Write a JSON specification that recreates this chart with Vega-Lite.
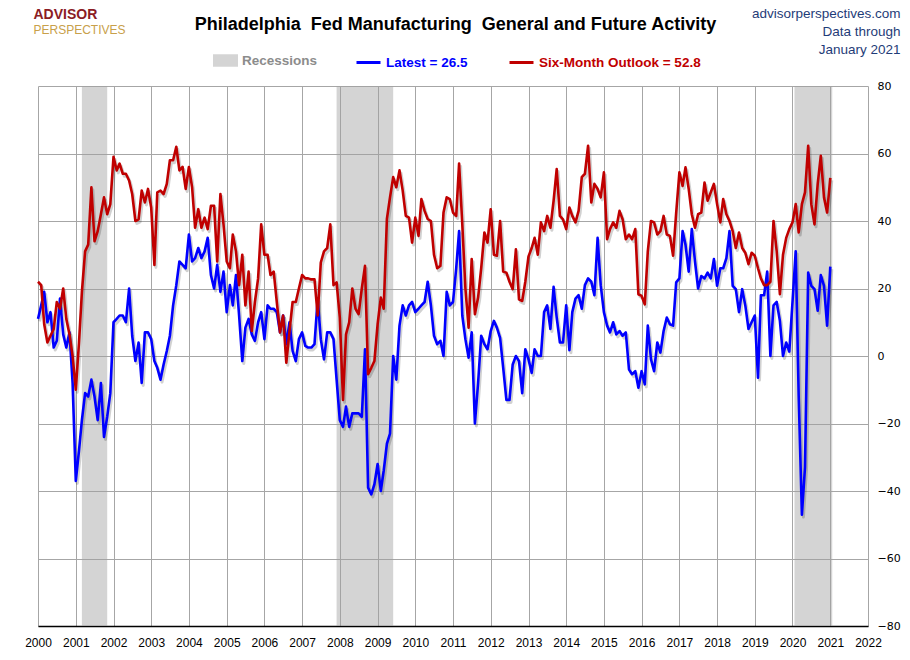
{
  "$schema": "https://vega.github.io/schema/vega-lite/v6.json",
  "width": 830,
  "height": 540,
  "autosize": {"type": "none"},
  "padding": {"left": 38, "top": 86, "right": 42, "bottom": 34},
  "background": "white",
  "datasets": {
    "recessions": [
      {"start": "2001-03-01", "end": "2001-11-01"},
      {"start": "2007-12-01", "end": "2009-06-01"},
      {"start": "2020-01-20", "end": "2021-01-20"}
    ],
    "series": [
      {"date": "2000-01-01", "latest": 11, "outlook": 22},
      {"date": "2000-02-01", "latest": 15, "outlook": 21},
      {"date": "2000-03-01", "latest": 19, "outlook": 9.4},
      {"date": "2000-04-01", "latest": 10, "outlook": 4},
      {"date": "2000-05-01", "latest": 13, "outlook": 6},
      {"date": "2000-06-01", "latest": 2.5, "outlook": 8},
      {"date": "2000-07-01", "latest": 4.5, "outlook": 16},
      {"date": "2000-08-01", "latest": 17, "outlook": 14},
      {"date": "2000-09-01", "latest": 6.4, "outlook": 20},
      {"date": "2000-10-01", "latest": 2.5, "outlook": 11},
      {"date": "2000-11-01", "latest": 7, "outlook": 6.4},
      {"date": "2000-12-01", "latest": -8, "outlook": 0},
      {"date": "2001-01-01", "latest": -37, "outlook": -10},
      {"date": "2001-02-01", "latest": -28, "outlook": 4},
      {"date": "2001-03-01", "latest": -19, "outlook": 19},
      {"date": "2001-04-01", "latest": -11, "outlook": 31},
      {"date": "2001-05-01", "latest": -12, "outlook": 33},
      {"date": "2001-06-01", "latest": -7, "outlook": 50},
      {"date": "2001-07-01", "latest": -12, "outlook": 34},
      {"date": "2001-08-01", "latest": -19, "outlook": 37},
      {"date": "2001-09-01", "latest": -8, "outlook": 42},
      {"date": "2001-10-01", "latest": -24, "outlook": 47},
      {"date": "2001-11-01", "latest": -18, "outlook": 42},
      {"date": "2001-12-01", "latest": -11, "outlook": 45},
      {"date": "2002-01-01", "latest": 10, "outlook": 59},
      {"date": "2002-02-01", "latest": 11, "outlook": 55},
      {"date": "2002-03-01", "latest": 12, "outlook": 57},
      {"date": "2002-04-01", "latest": 12, "outlook": 54},
      {"date": "2002-05-01", "latest": 10, "outlook": 54},
      {"date": "2002-06-01", "latest": 20, "outlook": 52},
      {"date": "2002-07-01", "latest": 6, "outlook": 48},
      {"date": "2002-08-01", "latest": -1.5, "outlook": 40},
      {"date": "2002-09-01", "latest": 4, "outlook": 40.5},
      {"date": "2002-10-01", "latest": -8, "outlook": 49},
      {"date": "2002-11-01", "latest": 7, "outlook": 45.5},
      {"date": "2002-12-01", "latest": 7, "outlook": 49.5},
      {"date": "2003-01-01", "latest": 5, "outlook": 44},
      {"date": "2003-02-01", "latest": -1.5, "outlook": 27},
      {"date": "2003-03-01", "latest": -3.5, "outlook": 48.5},
      {"date": "2003-04-01", "latest": -7, "outlook": 49},
      {"date": "2003-05-01", "latest": -2.5, "outlook": 48},
      {"date": "2003-06-01", "latest": 1.5, "outlook": 51},
      {"date": "2003-07-01", "latest": 6, "outlook": 58},
      {"date": "2003-08-01", "latest": 15, "outlook": 58},
      {"date": "2003-09-01", "latest": 21, "outlook": 62},
      {"date": "2003-10-01", "latest": 28, "outlook": 55},
      {"date": "2003-11-01", "latest": 27, "outlook": 56},
      {"date": "2003-12-01", "latest": 26, "outlook": 49.5},
      {"date": "2004-01-01", "latest": 36, "outlook": 56},
      {"date": "2004-02-01", "latest": 28, "outlook": 50},
      {"date": "2004-03-01", "latest": 29, "outlook": 38},
      {"date": "2004-04-01", "latest": 32, "outlook": 43.5},
      {"date": "2004-05-01", "latest": 29, "outlook": 38},
      {"date": "2004-06-01", "latest": 31, "outlook": 41},
      {"date": "2004-07-01", "latest": 35, "outlook": 37.6},
      {"date": "2004-08-01", "latest": 24, "outlook": 44.5},
      {"date": "2004-09-01", "latest": 20, "outlook": 44.5},
      {"date": "2004-10-01", "latest": 27, "outlook": 28},
      {"date": "2004-11-01", "latest": 19, "outlook": 48},
      {"date": "2004-12-01", "latest": 25, "outlook": 39},
      {"date": "2005-01-01", "latest": 13, "outlook": 28},
      {"date": "2005-02-01", "latest": 21, "outlook": 26},
      {"date": "2005-03-01", "latest": 15, "outlook": 36},
      {"date": "2005-04-01", "latest": 24, "outlook": 31},
      {"date": "2005-05-01", "latest": 12, "outlook": 21},
      {"date": "2005-06-01", "latest": -1.5, "outlook": 30},
      {"date": "2005-07-01", "latest": 8.4, "outlook": 15},
      {"date": "2005-08-01", "latest": 11, "outlook": 25},
      {"date": "2005-09-01", "latest": 6.4, "outlook": 7.4},
      {"date": "2005-10-01", "latest": 4.5, "outlook": 16},
      {"date": "2005-11-01", "latest": 10, "outlook": 23},
      {"date": "2005-12-01", "latest": 13, "outlook": 39},
      {"date": "2006-01-01", "latest": 5, "outlook": 30},
      {"date": "2006-02-01", "latest": 15, "outlook": 30},
      {"date": "2006-03-01", "latest": 14, "outlook": 24},
      {"date": "2006-04-01", "latest": 14, "outlook": 25},
      {"date": "2006-05-01", "latest": 13, "outlook": 16},
      {"date": "2006-06-01", "latest": 7, "outlook": 7},
      {"date": "2006-07-01", "latest": 12, "outlook": 12},
      {"date": "2006-08-01", "latest": 3.5, "outlook": -2},
      {"date": "2006-09-01", "latest": 10, "outlook": 7.4},
      {"date": "2006-10-01", "latest": 1.5, "outlook": 16},
      {"date": "2006-11-01", "latest": -1.5, "outlook": 16},
      {"date": "2006-12-01", "latest": 5, "outlook": 20},
      {"date": "2007-01-01", "latest": 7, "outlook": 24},
      {"date": "2007-02-01", "latest": 3, "outlook": 23},
      {"date": "2007-03-01", "latest": 2.5, "outlook": 23},
      {"date": "2007-04-01", "latest": 2.5, "outlook": 22.7},
      {"date": "2007-05-01", "latest": 3.5, "outlook": 22.7},
      {"date": "2007-06-01", "latest": 17, "outlook": 12},
      {"date": "2007-07-01", "latest": 5, "outlook": 27.7},
      {"date": "2007-08-01", "latest": -1, "outlook": 31},
      {"date": "2007-09-01", "latest": 7, "outlook": 32},
      {"date": "2007-10-01", "latest": 7, "outlook": 39},
      {"date": "2007-11-01", "latest": 5, "outlook": 21},
      {"date": "2007-12-01", "latest": -7, "outlook": 21.8},
      {"date": "2008-01-01", "latest": -19, "outlook": 11.4},
      {"date": "2008-02-01", "latest": -21, "outlook": -13},
      {"date": "2008-03-01", "latest": -15, "outlook": 6.4},
      {"date": "2008-04-01", "latest": -21, "outlook": 10},
      {"date": "2008-05-01", "latest": -17, "outlook": 20},
      {"date": "2008-06-01", "latest": -17, "outlook": 14},
      {"date": "2008-07-01", "latest": -17, "outlook": 12.4},
      {"date": "2008-08-01", "latest": -18, "outlook": 20},
      {"date": "2008-09-01", "latest": 2, "outlook": 26.7},
      {"date": "2008-10-01", "latest": -39, "outlook": -5.4},
      {"date": "2008-11-01", "latest": -41, "outlook": -3.5},
      {"date": "2008-12-01", "latest": -38, "outlook": -1.5},
      {"date": "2009-01-01", "latest": -32, "outlook": 9.4},
      {"date": "2009-02-01", "latest": -40, "outlook": 17.3},
      {"date": "2009-03-01", "latest": -34, "outlook": 14},
      {"date": "2009-04-01", "latest": -26, "outlook": 40.6},
      {"date": "2009-05-01", "latest": -23, "outlook": 47},
      {"date": "2009-06-01", "latest": 0, "outlook": 53},
      {"date": "2009-07-01", "latest": -7, "outlook": 50},
      {"date": "2009-08-01", "latest": 9, "outlook": 55},
      {"date": "2009-09-01", "latest": 15, "outlook": 49},
      {"date": "2009-10-01", "latest": 12, "outlook": 41.5},
      {"date": "2009-11-01", "latest": 15, "outlook": 41},
      {"date": "2009-12-01", "latest": 16, "outlook": 33.6},
      {"date": "2010-01-01", "latest": 13, "outlook": 41},
      {"date": "2010-02-01", "latest": 14, "outlook": 35.6},
      {"date": "2010-03-01", "latest": 15, "outlook": 46.5},
      {"date": "2010-04-01", "latest": 16, "outlook": 43},
      {"date": "2010-05-01", "latest": 22, "outlook": 40.6},
      {"date": "2010-06-01", "latest": 15, "outlook": 40},
      {"date": "2010-07-01", "latest": 6, "outlook": 30},
      {"date": "2010-08-01", "latest": 3.5, "outlook": 26},
      {"date": "2010-09-01", "latest": 4.5, "outlook": 26.7},
      {"date": "2010-10-01", "latest": 0, "outlook": 42.5},
      {"date": "2010-11-01", "latest": 19, "outlook": 47},
      {"date": "2010-12-01", "latest": 15, "outlook": 46.5},
      {"date": "2011-01-01", "latest": 16, "outlook": 42.5},
      {"date": "2011-02-01", "latest": 26, "outlook": 41.5},
      {"date": "2011-03-01", "latest": 37, "outlook": 57},
      {"date": "2011-04-01", "latest": 12, "outlook": 39},
      {"date": "2011-05-01", "latest": 5, "outlook": 20},
      {"date": "2011-06-01", "latest": -0.5, "outlook": 8.4},
      {"date": "2011-07-01", "latest": 7, "outlook": 28.7},
      {"date": "2011-08-01", "latest": -20, "outlook": 12.4},
      {"date": "2011-09-01", "latest": -8, "outlook": 17.3},
      {"date": "2011-10-01", "latest": 6, "outlook": 26},
      {"date": "2011-11-01", "latest": 3.5, "outlook": 36.6},
      {"date": "2011-12-01", "latest": 2, "outlook": 33.6},
      {"date": "2012-01-01", "latest": 7.4, "outlook": 43.5},
      {"date": "2012-02-01", "latest": 10.4, "outlook": 30},
      {"date": "2012-03-01", "latest": 8.4, "outlook": 29.7},
      {"date": "2012-04-01", "latest": 5.4, "outlook": 40},
      {"date": "2012-05-01", "latest": -3.5, "outlook": 25},
      {"date": "2012-06-01", "latest": -13, "outlook": 24.7},
      {"date": "2012-07-01", "latest": -13, "outlook": 22},
      {"date": "2012-08-01", "latest": -2.5, "outlook": 19.8},
      {"date": "2012-09-01", "latest": 0, "outlook": 31.6},
      {"date": "2012-10-01", "latest": -1.5, "outlook": 16.8},
      {"date": "2012-11-01", "latest": -11, "outlook": 16.3},
      {"date": "2012-12-01", "latest": 2, "outlook": 22},
      {"date": "2013-01-01", "latest": -1, "outlook": 29.5},
      {"date": "2013-02-01", "latest": -5, "outlook": 32},
      {"date": "2013-03-01", "latest": 2, "outlook": 35},
      {"date": "2013-04-01", "latest": 0, "outlook": 30},
      {"date": "2013-05-01", "latest": 0, "outlook": 39.6},
      {"date": "2013-06-01", "latest": 13, "outlook": 37},
      {"date": "2013-07-01", "latest": 15, "outlook": 41.5},
      {"date": "2013-08-01", "latest": 8, "outlook": 38},
      {"date": "2013-09-01", "latest": 20.5, "outlook": 46},
      {"date": "2013-10-01", "latest": 11.4, "outlook": 55.4},
      {"date": "2013-11-01", "latest": 4, "outlook": 41.5},
      {"date": "2013-12-01", "latest": 4, "outlook": 40.5},
      {"date": "2014-01-01", "latest": 15, "outlook": 37.6},
      {"date": "2014-02-01", "latest": 1.7, "outlook": 44},
      {"date": "2014-03-01", "latest": 13, "outlook": 41.5},
      {"date": "2014-04-01", "latest": 17, "outlook": 39.6},
      {"date": "2014-05-01", "latest": 18, "outlook": 43},
      {"date": "2014-06-01", "latest": 14, "outlook": 53},
      {"date": "2014-07-01", "latest": 21, "outlook": 54},
      {"date": "2014-08-01", "latest": 23, "outlook": 62.3},
      {"date": "2014-09-01", "latest": 22, "outlook": 45.5},
      {"date": "2014-10-01", "latest": 18, "outlook": 51},
      {"date": "2014-11-01", "latest": 35, "outlook": 49.5},
      {"date": "2014-12-01", "latest": 21, "outlook": 47},
      {"date": "2015-01-01", "latest": 13, "outlook": 54.4},
      {"date": "2015-02-01", "latest": 9, "outlook": 34.6},
      {"date": "2015-03-01", "latest": 7, "outlook": 37.6},
      {"date": "2015-04-01", "latest": 10, "outlook": 39.6},
      {"date": "2015-05-01", "latest": 6.4, "outlook": 38},
      {"date": "2015-06-01", "latest": 7.4, "outlook": 43},
      {"date": "2015-07-01", "latest": 6, "outlook": 40.5},
      {"date": "2015-08-01", "latest": 7, "outlook": 34.6},
      {"date": "2015-09-01", "latest": -4, "outlook": 36},
      {"date": "2015-10-01", "latest": -5.4, "outlook": 34.6},
      {"date": "2015-11-01", "latest": -4.5, "outlook": 37.6},
      {"date": "2015-12-01", "latest": -9.4, "outlook": 18.3},
      {"date": "2016-01-01", "latest": -4.5, "outlook": 17.8},
      {"date": "2016-02-01", "latest": -8.4, "outlook": 15.3},
      {"date": "2016-03-01", "latest": 9, "outlook": 31},
      {"date": "2016-04-01", "latest": -1, "outlook": 40},
      {"date": "2016-05-01", "latest": -4.5, "outlook": 39.6},
      {"date": "2016-06-01", "latest": 4, "outlook": 36},
      {"date": "2016-07-01", "latest": 1, "outlook": 37},
      {"date": "2016-08-01", "latest": 7.4, "outlook": 41.5},
      {"date": "2016-09-01", "latest": 11.4, "outlook": 36},
      {"date": "2016-10-01", "latest": 9.4, "outlook": 35.6},
      {"date": "2016-11-01", "latest": 9, "outlook": 29.7},
      {"date": "2016-12-01", "latest": 21.8, "outlook": 42.5},
      {"date": "2017-01-01", "latest": 23, "outlook": 54.4},
      {"date": "2017-02-01", "latest": 37, "outlook": 50.4},
      {"date": "2017-03-01", "latest": 33, "outlook": 55.9},
      {"date": "2017-04-01", "latest": 25, "outlook": 49.5},
      {"date": "2017-05-01", "latest": 37.6, "outlook": 42},
      {"date": "2017-06-01", "latest": 28, "outlook": 38},
      {"date": "2017-07-01", "latest": 20, "outlook": 42},
      {"date": "2017-08-01", "latest": 23.7, "outlook": 42.5},
      {"date": "2017-09-01", "latest": 23, "outlook": 51.4},
      {"date": "2017-10-01", "latest": 24.7, "outlook": 46},
      {"date": "2017-11-01", "latest": 23, "outlook": 48.5},
      {"date": "2017-12-01", "latest": 28.7, "outlook": 51},
      {"date": "2018-01-01", "latest": 20.8, "outlook": 45},
      {"date": "2018-02-01", "latest": 26, "outlook": 39.6},
      {"date": "2018-03-01", "latest": 26, "outlook": 46.5},
      {"date": "2018-04-01", "latest": 29, "outlook": 42},
      {"date": "2018-05-01", "latest": 37, "outlook": 40},
      {"date": "2018-06-01", "latest": 20.8, "outlook": 37},
      {"date": "2018-07-01", "latest": 19.8, "outlook": 32},
      {"date": "2018-08-01", "latest": 13, "outlook": 36.6},
      {"date": "2018-09-01", "latest": 19.8, "outlook": 32},
      {"date": "2018-10-01", "latest": 15, "outlook": 30.6},
      {"date": "2018-11-01", "latest": 8, "outlook": 27.2},
      {"date": "2018-12-01", "latest": 10, "outlook": 30.6},
      {"date": "2019-01-01", "latest": 12, "outlook": 29.7},
      {"date": "2019-02-01", "latest": -6.4, "outlook": 26},
      {"date": "2019-03-01", "latest": 18, "outlook": 23},
      {"date": "2019-04-01", "latest": 18, "outlook": 21},
      {"date": "2019-05-01", "latest": 25, "outlook": 21},
      {"date": "2019-06-01", "latest": 0, "outlook": 22},
      {"date": "2019-07-01", "latest": 15, "outlook": 40},
      {"date": "2019-08-01", "latest": 16, "outlook": 31},
      {"date": "2019-09-01", "latest": 10.4, "outlook": 18.3},
      {"date": "2019-10-01", "latest": 0, "outlook": 30},
      {"date": "2019-11-01", "latest": 4, "outlook": 35},
      {"date": "2019-12-01", "latest": 1.3, "outlook": 37.6},
      {"date": "2020-01-01", "latest": 16, "outlook": 39.6},
      {"date": "2020-02-01", "latest": 31, "outlook": 45},
      {"date": "2020-03-01", "latest": -12, "outlook": 36.6},
      {"date": "2020-04-01", "latest": -47, "outlook": 45},
      {"date": "2020-05-01", "latest": -33, "outlook": 48.5},
      {"date": "2020-06-01", "latest": 24.7, "outlook": 62.3},
      {"date": "2020-07-01", "latest": 20.8, "outlook": 45},
      {"date": "2020-08-01", "latest": 19.8, "outlook": 39},
      {"date": "2020-09-01", "latest": 13.4, "outlook": 51},
      {"date": "2020-10-01", "latest": 24, "outlook": 59.3},
      {"date": "2020-11-01", "latest": 20.8, "outlook": 47},
      {"date": "2020-12-01", "latest": 9, "outlook": 42.5},
      {"date": "2021-01-01", "latest": 26.5, "outlook": 52.8}
    ]
  },
  "resolve": {"axis": {"x": "independent", "y": "independent"}},
  "layer": [
    {
      "data": {"name": "recessions"},
      "mark": {"type": "rect", "opacity": 0.45},
      "encoding": {
        "x": {
          "field": "start",
          "type": "temporal",
          "scale": {
            "type": "utc",
            "nice": false,
            "domain": [
              {"year": 2000, "month": 1, "date": 1, "utc": true},
              {"year": 2022, "month": 1, "date": 1, "utc": true}
            ]
          },
          "axis": {
            "orient": "bottom",
            "format": "%Y",
            "formatType": "utc",
            "values": [
              {"year": 2000, "utc": true}, {"year": 2001, "utc": true}, {"year": 2002, "utc": true},
              {"year": 2003, "utc": true}, {"year": 2004, "utc": true}, {"year": 2005, "utc": true},
              {"year": 2006, "utc": true}, {"year": 2007, "utc": true}, {"year": 2008, "utc": true},
              {"year": 2009, "utc": true}, {"year": 2010, "utc": true}, {"year": 2011, "utc": true},
              {"year": 2012, "utc": true}, {"year": 2013, "utc": true}, {"year": 2014, "utc": true},
              {"year": 2015, "utc": true}, {"year": 2016, "utc": true}, {"year": 2017, "utc": true},
              {"year": 2018, "utc": true}, {"year": 2019, "utc": true}, {"year": 2020, "utc": true},
              {"year": 2021, "utc": true}, {"year": 2022, "utc": true}
            ],
            "grid": true,
            "domain": true,
            "domainColor": "#000000",
            "domainWidth": 1.5,
            "labelFont": "Liberation Sans",
            "labelFontSize": 12,
            "labelPadding": 11,
            "labelFlush": false,
            "title": "ADVISOR",
            "titleX": -5,
            "titleY": -608,
            "titleAlign": "left",
            "titleBaseline": "alphabetic",
            "titleFont": "Liberation Sans",
            "titleFontSize": 14,
            "titleFontWeight": "bold",
            "titleColor": "#8b1c24"
          }
        },
        "x2": {"field": "end"},
        "fill": {
          "datum": "Recessions",
          "type": "nominal",
          "scale": {"range": ["#a0a0a0"]},
          "legend": {
            "orient": "none",
            "legendX": 175,
            "legendY": -38,
            "title": null,
            "symbolType": "M-1,-0.5H1V0.5H-1Z",
            "symbolSize": 625,
            "symbolOpacity": 0.45,
            "symbolStrokeWidth": 0,
            "labelColor": "#8c8c8c"
          }
        }
      }
    },
    {
      "data": {"name": "series"},
      "mark": {"type": "line", "strokeWidth": 3, "opacity": 0.18, "xOffset": 1.5, "yOffset": 2.5, "strokeJoin": "round"},
      "encoding": {
        "x": {"field": "date", "type": "temporal", "axis": null},
        "y": {"field": "latest", "type": "quantitative", "scale": {"domain": [-80, 80], "nice": false}, "axis": null},
        "color": {"value": "#000000"}
      }
    },
    {
      "data": {"name": "series"},
      "mark": {"type": "line", "strokeWidth": 3, "opacity": 0.18, "xOffset": 1.5, "yOffset": 2.5, "strokeJoin": "round"},
      "encoding": {
        "x": {"field": "date", "type": "temporal", "axis": null},
        "y": {"field": "outlook", "type": "quantitative", "axis": null},
        "color": {"value": "#000000"}
      }
    },
    {
      "data": {"name": "series"},
      "mark": {"type": "line", "strokeWidth": 2.6, "strokeJoin": "round"},
      "encoding": {
        "x": {
          "field": "date",
          "type": "temporal",
          "axis": {
            "orient": "top",
            "labels": false,
            "ticks": false,
            "domain": false,
            "grid": false,
            "title": "Philadelphia\u00a0 Fed Manufacturing\u00a0 General and Future Activity",
            "titleX": 417,
            "titleY": -57,
            "titleAlign": "center",
            "titleBaseline": "alphabetic",
            "titleFont": "Liberation Sans",
            "titleFontSize": 18,
            "titleFontWeight": "bold",
            "titleColor": "#000000"
          }
        },
        "y": {
          "field": "latest",
          "type": "quantitative",
          "scale": {"domain": [-80, 80], "nice": false},
          "axis": {
            "orient": "right",
            "values": [-80, -60, -40, -20, 0, 20, 40, 60, 80],
            "grid": true,
            "domain": false,
            "labelFont": "DejaVu Sans",
            "labelFontSize": 11,
            "labelPadding": 9,
            "title": ["advisorperspectives.com", "Data through", "January 2021"],
            "titleAngle": 0,
            "titleX": 32,
            "titleY": -69,
            "titleAlign": "right",
            "titleBaseline": "alphabetic",
            "titleFont": "Liberation Sans",
            "titleFontSize": 13.5,
            "titleFontWeight": "normal",
            "titleLineHeight": 18,
            "titleColor": "#1f3c78"
          }
        },
        "color": {
          "datum": "Latest = 26.5",
          "type": "nominal",
          "scale": {"range": ["#0000ff"]},
          "legend": {
            "orient": "none",
            "legendX": 317,
            "legendY": -37,
            "title": null,
            "symbolType": "stroke",
            "symbolSize": 576,
            "symbolStrokeWidth": 3,
            "labelColor": "#0000ff"
          }
        }
      }
    },
    {
      "data": {"name": "series"},
      "mark": {"type": "line", "strokeWidth": 2.6, "strokeJoin": "round"},
      "encoding": {
        "x": {"field": "date", "type": "temporal", "axis": null},
        "y": {
          "field": "outlook",
          "type": "quantitative",
          "axis": {
            "orient": "left",
            "labels": false,
            "ticks": false,
            "domain": false,
            "grid": false,
            "title": "PERSPECTIVES",
            "titleAngle": 0,
            "titleX": -5,
            "titleY": -53,
            "titleAlign": "left",
            "titleBaseline": "alphabetic",
            "titleFont": "Liberation Sans",
            "titleFontSize": 12,
            "titleFontWeight": "normal",
            "titleColor": "#c8a04a"
          }
        },
        "stroke": {
          "datum": "Six-Month Outlook = 52.8",
          "type": "nominal",
          "scale": {"range": ["#c00000"]},
          "legend": {
            "orient": "none",
            "legendX": 470,
            "legendY": -37,
            "title": null,
            "symbolType": "stroke",
            "symbolSize": 576,
            "symbolStrokeWidth": 3,
            "labelColor": "#c00000"
          }
        }
      }
    }
  ],
  "config": {
    "view": {"stroke": null},
    "axis": {
      "gridColor": "#a6a6a6",
      "gridWidth": 1,
      "ticks": false,
      "labelColor": "#000000"
    },
    "legend": {
      "labelFont": "Liberation Sans",
      "labelFontSize": 13.5,
      "labelFontWeight": "bold",
      "labelOffset": 4,
      "labelLimit": 400
    }
  }
}
